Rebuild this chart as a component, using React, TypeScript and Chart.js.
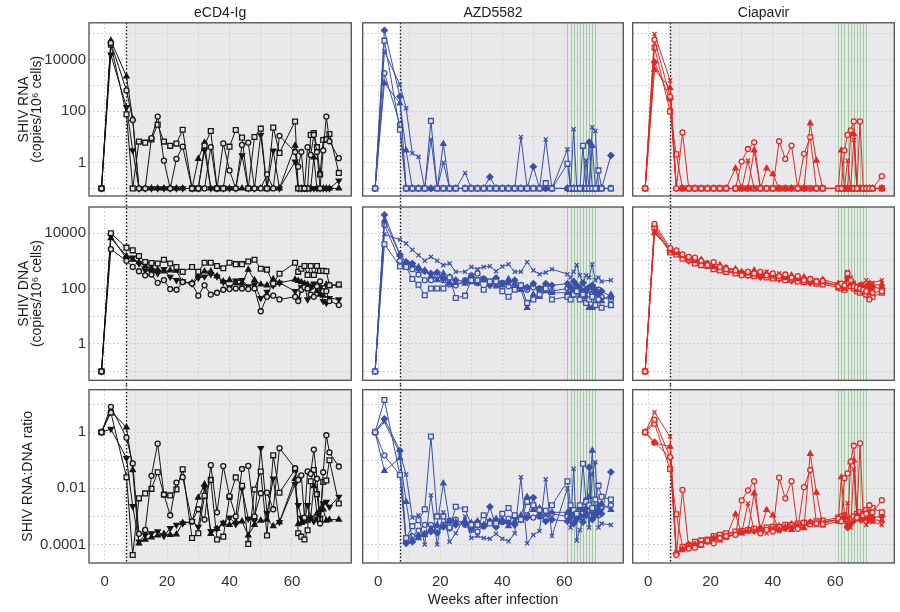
import React, { useEffect, useRef } from "react";
import { Chart, registerables } from "chart.js";

Chart.register(...registerables);

const FONT_FAMILY = "'Liberation Sans', Arial, Helvetica, sans-serif";

// ---------------- data ----------------
const WEEKS = [
  -1, 2, 7, 9, 11, 13, 15, 17, 19, 21,
  23, 25, 28, 30, 32, 34, 36, 38, 40, 42,
  44, 46, 48, 50, 52, 54, 56, 61, 62, 63,
  64, 65, 66, 67, 68, 69, 70, 71, 72, 75,
];

const GROUP_NAMES = ["eCD4-Ig", "AZD5582", "Ciapavir"];
const GROUP_COLORS = ["#141414", "#3b50a6", "#de2a26"];
const TREATMENT_START_WEEK = 7;
const INFUSION_WEEKS = [61, 62, 63, 64, 65, 66, 67, 68, 69, 70];
const X_GRID_WEEKS = [0, 10, 20, 30, 40, 50, 60, 70];
const X_LABEL_WEEKS = [0, 20, 40, 60];
const RNA_DECADES = [0.1, 1, 10, 100, 1000, 10000, 100000];
const DNA_DECADES = [0.1, 1, 10, 100, 1000, 10000];
const COPY_LABELS = [1, 100, 10000];
const RATIO_DECADES = [0.0001, 0.001, 0.01, 0.1, 1, 10];
const RATIO_LABELS = [0.0001, 0.01, 1];

// eCD4-Ig
const ECD4_RNA_CIRCLE = [0.1, 45000, 640, 46, 0.1, 0.1, 9, 62, 1.2, 0.1,
  1.4, 4.2, 0.1, 0.1, 0.1, 4, 0.1, 5.6, 0.5, 0.1,
  4.9, 6, 0.1, 0.1, 0.35, 0.1, 11, 2.6, 0.7, 2.6,
  0.1, 4, 2, 12, 2.6, 0.1, 3, 62, 6.8, 1.5];
const ECD4_RNA_SQUARE = [0.1, 38000, 76, 0.1, 6.6, 6, 8, 30, 6.6, 4.5,
  5.5, 19, 0.1, 0.1, 4.6, 17, 0.1, 0.1, 4.2, 18.6,
  9.4, 0.1, 10, 21, 0.1, 23, 2.4, 40, 0.1, 0.1,
  0.1, 0.1, 12, 14, 4, 0.35, 7.6, 8, 13, 0.4];
const ECD4_RNA_TRIUP = [0.1, 56000, 2240, 50, 0.1, 0.1, 0.1, 0.1, 0.1, 0.1,
  0.1, 0.1, 0.1, 1.4, 6, 0.1, 0.1, 0.1, 0.1, 0.1,
  0.1, 0.1, 0.1, 0.1, 0.1, 0.1, 0.1, 4.6, 0.1, 0.1,
  0.1, 0.1, 0.1, 1.6, 0.1, 0.1, 0.1, 0.1, 0.1, 0.1];
const ECD4_RNA_TRIDOWN = [0.1, 15600, 144, 3, 0.1, 0.1, 0.1, 0.1, 0.1, 0.1,
  0.1, 0.1, 0.1, 0.1, 3, 0.1, 0.1, 0.1, 0.1, 0.1,
  1.9, 0.1, 0.1, 12, 0.1, 2.9, 0.1, 1.1, 0.1, 0.1,
  0.1, 0.1, 0.1, 0.1, 0.1, 0.1, 0.1, 0.1, 0.1, 0.2];

const ECD4_DNA_CIRCLE = [0.1, 2650, 1000, 600, 420, 300, 320, 160, 200, 95,
  90, 170, 150, 55, 130, 60, 70, 90, 95, 100,
  100, 95, 100, 15, 50, 55, 40, 50, 35, 90,
  110, 100, 60, 50, 120, 180, 80, 80, 35, 25];
const ECD4_DNA_SQUARE = [0.1, 10000, 3000, 2400, 1500, 910, 830, 800, 1100, 800,
  600, 400, 600, 400, 850, 850, 650, 540, 850, 760,
  760, 950, 1100, 520, 480, 150, 340, 850, 400, 520,
  650, 310, 650, 310, 650, 430, 440, 420, 130, 140];
const ECD4_DNA_TRIUP = [0.1, 6600, 1500, 1100, 900, 650, 550, 480, 420, 450,
  440, 170, 160, 300, 420, 420, 280, 180, 200, 160,
  150, 480, 200, 140, 130, 220, 160, 210, 190, 170,
  150, 140, 110, 130, 80, 60, 55, 140, 130, 130];
const ECD4_DNA_TRIDOWN = [0.1, 8000, 1200, 1300, 800, 450, 400, 350, 500, 260,
  200, 180, 150, 240, 270, 330, 270, 170, 110, 190,
  200, 120, 140, 45, 75, 130, 160, 80, 40, 110,
  140, 40, 110, 150, 120, 110, 35, 30, 45, 40];

const ECD4_RATIO_CIRCLE = [1, 8, 0.64, 0.077, 0.00024, 0.00033, 0.028, 0.39, 0.006, 0.0011,
  0.016, 0.025, 0.00067, 0.0018, 0.00077, 0.067, 0.0014, 0.062, 0.0053, 0.001,
  0.049, 0.063, 0.001, 0.0067, 0.007, 0.0018, 0.27, 0.052, 0.02, 0.029,
  0.0009, 0.04, 0.033, 0.24, 0.022, 0.00056, 0.0375, 0.78, 0.19, 0.06];
const ECD4_RATIO_SQUARE = [1, 5, 0.025, 0.000042, 0.0044, 0.0066, 0.0096, 0.0375, 0.006, 0.0056,
  0.0092, 0.0475, 0.00017, 0.00025, 0.0054, 0.02, 0.00015, 0.00019, 0.0049, 0.0245,
  0.0124, 0.000105, 0.0091, 0.04, 0.00021, 0.15, 0.007, 0.047, 0.00025, 0.00019,
  0.00015, 0.00032, 0.018, 0.045, 0.0062, 0.0008, 0.017, 0.019, 0.1, 0.0029];
const ECD4_RATIO_TRIUP = [1, 5.6, 1.5, 0.045, 0.00011, 0.00015, 0.00018, 0.00021, 0.00024, 0.00022,
  0.00023, 0.00059, 0.00063, 0.0047, 0.014, 0.00024, 0.00036, 0.00056, 0.0005, 0.00063,
  0.00067, 0.00021, 0.0005, 0.00071, 0.00077, 0.00045, 0.00063, 0.022, 0.00053, 0.00059,
  0.00067, 0.00071, 0.00091, 0.012, 0.00125, 0.0017, 0.0018, 0.00071, 0.00077, 0.00077];
const ECD4_RATIO_TRIDOWN = [1, 1.3, 0.12, 0.0023, 0.000125, 0.00022, 0.00025, 0.00029, 0.0002, 0.00038,
  0.0005, 0.00056, 0.00067, 0.00042, 0.011, 0.0003, 0.00037, 0.00059, 0.00091, 0.00053,
  0.0095, 0.00083, 0.00071, 0.27, 0.0013, 0.022, 0.00063, 0.014, 0.0025, 0.00091,
  0.00071, 0.0025, 0.00091, 0.00067, 0.00083, 0.00091, 0.0029, 0.0033, 0.0022, 0.005];

// AZD5582
const AZD_RNA_SQUARE = [0.1, 55000, 19, 0.1, 0.1, 0.1, 0.1, 42, 0.1, 0.1,
  0.1, 0.1, 0.1, 0.1, 0.1, 0.1, 0.1, 0.1, 0.1, 0.1,
  0.1, 0.1, 0.1, 0.1, 0.1, 0.16, 0.1, 0.9, 0.1, 0.1,
  0.1, 0.1, 4.5, 0.1, 0.1, 0.1, 0.1, 0.5, 0.1, 0.1];
const AZD_RNA_DIAMOND = [0.1, 138000, 370, 0.1, 0.1, 0.1, 0.1, 0.1, 0.1, 0.1,
  0.1, 0.1, 0.1, 0.1, 0.1, 0.1, 0.28, 0.1, 0.1, 0.1,
  0.1, 0.1, 0.1, 0.7, 0.1, 0.1, 0.1, 0.1, 0.1, 0.1,
  0.1, 0.1, 0.1, 0.1, 6.3, 0.1, 0.1, 0.1, 0.1, 1.9];
const AZD_RNA_CROSS = [0.1, 21000, 1070, 130, 2.3, 1.7, 0.1, 8, 0.1, 1,
  0.1, 0.1, 0.4, 0.1, 0.1, 0.1, 0.1, 0.1, 0.1, 0.1,
  0.1, 10, 0.1, 0.1, 0.1, 8, 0.1, 3.3, 0.1, 20,
  0.1, 0.1, 0.1, 1.2, 0.1, 24, 17, 0.1, 0.1, 0.1];
const AZD_RNA_TRIUP = [0.1, 1230, 200, 3, 0.1, 0.1, 0.1, 0.1, 0.1, 5.4,
  0.1, 0.1, 0.1, 0.1, 0.1, 0.1, 0.1, 0.1, 0.1, 0.1,
  0.1, 0.1, 0.1, 0.1, 0.1, 0.1, 0.1, 0.1, 0.1, 0.1,
  0.1, 0.1, 0.1, 0.1, 0.1, 4.5, 0.1, 0.1, 0.1, 0.1];
const AZD_RNA_CIRCLE = [0.1, 3000, 30, 0.1, 0.1, 0.1, 0.1, 0.1, 0.1, 0.1,
  0.1, 0.1, 0.1, 0.1, 0.1, 0.1, 0.1, 0.1, 0.1, 0.1,
  0.1, 0.1, 0.1, 0.1, 0.1, 0.1, 0.1, 0.1, 0.1, 0.1,
  0.1, 0.1, 0.1, 0.1, 0.1, 0.1, 0.1, 0.1, 0.1, 0.1];

const AZD_DNA_SQUARE = [0.1, 4000, 630, 600, 220, 137, 57, 100, 100, 100,
  250, 45, 55, 200, 200, 90, 180, 180, 80, 50,
  90, 130, 30, 40, 60, 100, 40, 50, 40, 60,
  80, 40, 60, 30, 40, 50, 25, 40, 20, 25];
const AZD_DNA_DIAMOND = [0.1, 46000, 1660, 900, 800, 500, 420, 350, 380, 230,
  260, 200, 180, 260, 160, 220, 130, 240, 150, 170,
  200, 130, 110, 150, 90, 150, 130, 150, 110, 180,
  130, 100, 160, 90, 110, 130, 90, 60, 80, 50];
const AZD_DNA_CROSS = [0.1, 9200, 5800, 4200, 2500, 1600, 1000, 1400, 1000, 700,
  800, 400, 400, 600, 500, 600, 640, 420, 620, 750,
  400, 400, 900, 450, 330, 380, 500, 330, 250, 400,
  700, 300, 150, 300, 250, 750, 200, 250, 180, 200];
const AZD_DNA_TRIUP = [0.1, 29000, 1660, 900, 700, 600, 450, 280, 200, 350,
  150, 160, 150, 170, 150, 200, 150, 120, 130, 220,
  150, 90, 20, 60, 50, 80, 70, 70, 60, 80,
  110, 50, 60, 50, 20, 20, 70, 40, 35, 60];
const AZD_DNA_CIRCLE = [0.1, 20000, 1000, 850, 500, 320, 200, 200, 300, 200,
  140, 130, 200, 300, 350, 220, 150, 180, 160, 120,
  100, 110, 90, 110, 100, 120, 80, 100, 90, 70,
  80, 90, 70, 80, 90, 60, 70, 90, 50, 40];

const AZD_RATIO_SQUARE = [1, 14, 0.03, 0.00017, 0.00045, 0.00073, 0.0018, 0.7, 0.001, 0.001,
  0.0004, 0.0022, 0.0018, 0.0005, 0.0005, 0.0011, 0.00056, 0.00056, 0.00125, 0.002,
  0.0011, 0.00077, 0.0033, 0.0025, 0.0017, 0.0016, 0.0025, 0.018, 0.0025, 0.0017,
  0.00125, 0.0025, 0.075, 0.0033, 0.0025, 0.002, 0.004, 0.0125, 0.005, 0.004];
const AZD_RATIO_DIAMOND = [1, 3, 0.22, 0.00011, 0.000125, 0.0002, 0.00024, 0.00029, 0.00026, 0.00043,
  0.00038, 0.0005, 0.00056, 0.00038, 0.00063, 0.00045, 0.0022, 0.00042, 0.00067, 0.00059,
  0.0005, 0.00077, 0.00091, 0.0047, 0.0011, 0.00067, 0.00077, 0.00067, 0.00091, 0.00056,
  0.00077, 0.001, 0.00063, 0.0011, 0.057, 0.00077, 0.0011, 0.0017, 0.00125, 0.038];
const AZD_RATIO_CROSS = [1, 2.3, 0.18, 0.031, 0.00092, 0.0011, 0.0001, 0.0057, 0.0001, 0.0014,
  0.000125, 0.00025, 0.001, 0.00017, 0.0002, 0.00017, 0.00016, 0.00024, 0.00016, 0.00013,
  0.00025, 0.025, 0.00011, 0.00022, 0.0003, 0.021, 0.0002, 0.01, 0.0004, 0.05,
  0.00014, 0.00033, 0.00067, 0.004, 0.0004, 0.032, 0.085, 0.0004, 0.00056, 0.0005];
const AZD_RATIO_TRIUP = [1, 0.042, 0.12, 0.0033, 0.00014, 0.00017, 0.00022, 0.00036, 0.0005, 0.015,
  0.00067, 0.00063, 0.00067, 0.00059, 0.00067, 0.0005, 0.00067, 0.00083, 0.00077, 0.00045,
  0.00067, 0.0011, 0.005, 0.0017, 0.002, 0.00125, 0.0014, 0.0014, 0.0017, 0.00125,
  0.00091, 0.002, 0.0017, 0.002, 0.005, 0.22, 0.0014, 0.0025, 0.0029, 0.0017];
const AZD_RATIO_CIRCLE = [1, 0.15, 0.03, 0.00012, 0.0002, 0.00031, 0.0005, 0.0005, 0.00033, 0.0005,
  0.00071, 0.00077, 0.0005, 0.00033, 0.00029, 0.00045, 0.00067, 0.00056, 0.00063, 0.00083,
  0.001, 0.00091, 0.0011, 0.00091, 0.001, 0.00083, 0.00125, 0.001, 0.0011, 0.0014,
  0.00125, 0.0011, 0.0014, 0.00125, 0.0011, 0.0017, 0.0014, 0.0011, 0.002, 0.0025];

// Ciapavir
const CIA_RNA_CIRCLE = [0.1, 60000, 370, 0.1, 15, 0.1, 0.1, 0.1, 0.1, 0.1,
  0.1, 0.1, 0.1, 1.1, 3.4, 6.2, 0.1, 0.1, 0.1, 6.8,
  1.4, 4.6, 0.1, 2.2, 9.8, 0.1, 0.1, 0.1, 0.1, 3,
  12, 18, 40, 0.1, 40, 0.1, 0.1, 0.1, 0.1, 0.3];
const CIA_RNA_CROSS = [0.1, 100000, 1550, 0.1, 0.1, 0.1, 0.1, 0.1, 0.1, 0.1,
  0.1, 0.1, 0.1, 0.1, 1.2, 0.1, 0.1, 0.1, 0.1, 0.1,
  0.1, 0.1, 0.1, 0.1, 0.1, 0.1, 0.1, 0.1, 0.1, 0.1,
  1.2, 0.1, 7.6, 0.1, 0.1, 0.1, 0.1, 0.1, 0.1, 0.1];
const CIA_RNA_TRIUP = [0.1, 4100, 800, 0.1, 0.1, 0.1, 0.1, 0.1, 0.1, 0.1,
  0.1, 0.1, 0.6, 0.1, 0.1, 3, 0.1, 0.6, 0.36, 0.1,
  0.1, 0.1, 0.1, 0.1, 34, 1.2, 0.1, 0.1, 3, 0.1,
  0.1, 13, 13, 0.1, 0.1, 0.1, 0.1, 0.1, 0.1, 0.1];
const CIA_RNA_SQUARE = [0.1, 30000, 98, 2.1, 0.1, 0.1, 0.1, 0.1, 0.1, 0.1,
  0.1, 0.1, 0.1, 0.1, 0.1, 0.1, 0.1, 0.1, 0.1, 0.1,
  0.1, 0.1, 0.1, 0.1, 0.1, 0.1, 0.1, 0.1, 0.1, 0.1,
  0.1, 0.1, 0.1, 0.1, 0.1, 0.1, 0.1, 0.1, 0.1, 0.1];
const CIA_RNA_DIAMOND = [0.1, 8000, 300, 0.1, 0.1, 0.1, 0.1, 0.1, 0.1, 0.1,
  0.1, 0.1, 0.1, 0.1, 0.1, 0.1, 0.1, 0.1, 0.1, 0.1,
  0.1, 0.1, 0.1, 0.1, 0.1, 0.1, 0.1, 0.1, 0.1, 0.1,
  0.1, 0.1, 0.1, 0.1, 0.1, 0.1, 0.1, 0.1, 0.1, 0.1];

const CIA_DNA_CIRCLE = [0.1, 21700, 2900, 2400, 1700, 1400, 1300, 1000, 700, 900,
  600, 500, 450, 300, 400, 350, 400, 300, 350, 280,
  320, 250, 280, 200, 220, 180, 190, 120, 150, 130,
  350, 200, 120, 110, 100, 90, 80, 40, 70, 80];
const CIA_DNA_CROSS = [0.1, 12000, 2200, 1900, 1600, 1300, 1100, 900, 850, 650,
  550, 600, 420, 380, 420, 320, 280, 400, 260, 350,
  280, 220, 250, 230, 170, 200, 160, 130, 110, 140,
  400, 250, 160, 120, 90, 150, 200, 120, 160, 200];
const CIA_DNA_TRIUP = [0.1, 10000, 2600, 2000, 1500, 1200, 1000, 1100, 800, 600,
  700, 550, 500, 400, 350, 450, 300, 350, 320, 300,
  240, 300, 220, 260, 200, 170, 210, 150, 120, 100,
  200, 150, 130, 90, 110, 100, 120, 150, 130, 140];
const CIA_DNA_SQUARE = [0.1, 15000, 2000, 1700, 1200, 1100, 800, 700, 650, 500,
  450, 400, 350, 330, 300, 280, 330, 250, 230, 240,
  200, 210, 180, 170, 190, 150, 140, 110, 100, 90,
  150, 120, 100, 80, 70, 80, 60, 50, 50, 70];
const CIA_DNA_DIAMOND = [0.1, 18000, 2400, 2100, 1400, 1000, 900, 800, 750, 550,
  500, 450, 380, 350, 300, 330, 260, 280, 300, 220,
  260, 190, 200, 180, 160, 170, 150, 140, 130, 120,
  250, 180, 140, 100, 130, 110, 100, 90, 110, 100];

const CIA_RATIO_CIRCLE = [1, 2.8, 0.13, 0.000042, 0.0088, 0.000071, 0.000077, 0.0001, 0.00014, 0.00011,
  0.00017, 0.0002, 0.00022, 0.0037, 0.0085, 0.018, 0.00025, 0.00033, 0.00029, 0.024,
  0.0044, 0.018, 0.00036, 0.011, 0.045, 0.00056, 0.00053, 0.00083, 0.00067, 0.023,
  0.034, 0.09, 0.33, 0.0009, 0.4, 0.0011, 0.00125, 0.0025, 0.0014, 0.0038];
const CIA_RATIO_CROSS = [1, 5.1, 0.7, 0.000053, 0.000063, 0.000077, 0.000091, 0.00011, 0.00012, 0.00015,
  0.00018, 0.00017, 0.00024, 0.00026, 0.0029, 0.00031, 0.00036, 0.00025, 0.00038, 0.00029,
  0.00036, 0.00045, 0.0004, 0.00043, 0.00059, 0.0005, 0.00063, 0.00077, 0.00091, 0.00071,
  0.003, 0.0004, 0.0475, 0.00083, 0.0011, 0.00067, 0.0005, 0.00083, 0.00063, 0.0005];
const CIA_RATIO_TRIUP = [1, 0.41, 0.31, 0.00005, 0.000067, 0.000083, 0.0001, 0.000091, 0.000125, 0.00017,
  0.00014, 0.00018, 0.0012, 0.00025, 0.00029, 0.0067, 0.00033, 0.0017, 0.0011, 0.00033,
  0.00042, 0.00033, 0.00045, 0.00038, 0.17, 0.0071, 0.00048, 0.00067, 0.025, 0.001,
  0.0005, 0.087, 0.1, 0.0011, 0.00091, 0.001, 0.00083, 0.00067, 0.00077, 0.00071];
const CIA_RATIO_SQUARE = [1, 2, 0.049, 0.0012, 0.000083, 0.000091, 0.000125, 0.00014, 0.00015, 0.0002,
  0.00022, 0.00025, 0.00029, 0.0003, 0.00033, 0.00036, 0.0003, 0.0004, 0.00043, 0.00042,
  0.0005, 0.00048, 0.00056, 0.00059, 0.00053, 0.00067, 0.00071, 0.00091, 0.001, 0.0011,
  0.00067, 0.00083, 0.001, 0.00125, 0.0014, 0.00125, 0.0017, 0.002, 0.002, 0.0014];
const CIA_RATIO_DIAMOND = [1, 0.44, 0.125, 0.000048, 0.000071, 0.0001, 0.00011, 0.000125, 0.00013, 0.00018,
  0.0002, 0.00022, 0.00026, 0.00029, 0.00033, 0.0003, 0.00038, 0.00036, 0.00033, 0.00045,
  0.00038, 0.00053, 0.0005, 0.00056, 0.00063, 0.00059, 0.00067, 0.00071, 0.00077, 0.00083,
  0.0004, 0.00056, 0.00071, 0.001, 0.00077, 0.00091, 0.001, 0.0011, 0.00091, 0.001];

// ---------------- series tables ----------------
const GROUP_SERIES = [
  [
    { marker: "circle", values: [ECD4_RNA_CIRCLE, ECD4_DNA_CIRCLE, ECD4_RATIO_CIRCLE] },
    { marker: "square", values: [ECD4_RNA_SQUARE, ECD4_DNA_SQUARE, ECD4_RATIO_SQUARE] },
    { marker: "triUp", values: [ECD4_RNA_TRIUP, ECD4_DNA_TRIUP, ECD4_RATIO_TRIUP] },
    { marker: "triDown", values: [ECD4_RNA_TRIDOWN, ECD4_DNA_TRIDOWN, ECD4_RATIO_TRIDOWN] },
  ],
  [
    { marker: "square", values: [AZD_RNA_SQUARE, AZD_DNA_SQUARE, AZD_RATIO_SQUARE] },
    { marker: "diamond", values: [AZD_RNA_DIAMOND, AZD_DNA_DIAMOND, AZD_RATIO_DIAMOND] },
    { marker: "cross", values: [AZD_RNA_CROSS, AZD_DNA_CROSS, AZD_RATIO_CROSS] },
    { marker: "triUp", values: [AZD_RNA_TRIUP, AZD_DNA_TRIUP, AZD_RATIO_TRIUP] },
    { marker: "circle", values: [AZD_RNA_CIRCLE, AZD_DNA_CIRCLE, AZD_RATIO_CIRCLE] },
  ],
  [
    { marker: "circle", values: [CIA_RNA_CIRCLE, CIA_DNA_CIRCLE, CIA_RATIO_CIRCLE] },
    { marker: "cross", values: [CIA_RNA_CROSS, CIA_DNA_CROSS, CIA_RATIO_CROSS] },
    { marker: "triUp", values: [CIA_RNA_TRIUP, CIA_DNA_TRIUP, CIA_RATIO_TRIUP] },
    { marker: "square", values: [CIA_RNA_SQUARE, CIA_DNA_SQUARE, CIA_RATIO_SQUARE] },
    { marker: "diamond", values: [CIA_RNA_DIAMOND, CIA_DNA_DIAMOND, CIA_RATIO_DIAMOND] },
  ],
];

// ---------------- styles / layout ----------------
const MARKERS: any = {
  circle: { style: "circle", filled: false, rotation: 0, radius: 2.5 },
  square: { style: "rect", filled: false, rotation: 0, radius: 3.4 },
  triUp: { style: "triangle", filled: true, rotation: 0, radius: 3.0 },
  triDown: { style: "triangle", filled: true, rotation: 180, radius: 3.0 },
  cross: { style: "crossRot", filled: false, rotation: 0, radius: 2.9 },
  diamond: { style: "rectRot", filled: true, rotation: 0, radius: 3.0 },
};
const OPEN_FILL = "rgba(235,235,235,0.9)";
const GRID_COLOR = "#d2d2d2";
const SHADE_COLOR = "#e9e9eb";
const GREEN_LINE = "#9fcc9f";
const TICK_COLOR = "#333333";
const TEXT_COLOR = "#1a1a1a";

const ROWS = [
  {
    top: 0, height: 201, padTop: 0, padBottom: 5, xAxisHeight: 0,
    min: 0.0507, max: 272000, decades: RNA_DECADES, labels: COPY_LABELS,
    title: ["SHIV RNA", "(copies/10\u2076 cells)"], titlePad: 17,
  },
  {
    top: 201, height: 184, padTop: 6, padBottom: 4, xAxisHeight: 0,
    min: 0.0476, max: 88700, decades: DNA_DECADES, labels: COPY_LABELS,
    title: ["SHIV DNA", "(copies/10\u2076 cells)"], titlePad: 17,
  },
  {
    top: 385, height: 227, padTop: 4, padBottom: 0, xAxisHeight: 49,
    min: 0.0000219, max: 32.7, decades: RATIO_DECADES, labels: RATIO_LABELS,
    title: "SHIV RNA:DNA ratio", titlePad: 21,
  },
];

const COLS = [
  { left: 0, width: 356, padLeft: 0, padRight: 4, yAxisWidth: 89 },
  { left: 358, width: 270, padLeft: 4, padRight: 3, yAxisWidth: 0 },
  { left: 628, width: 271, padLeft: 4, padRight: 4, yAxisWidth: 0 },
];

const X_MIN = -5;
const X_MAX = 79;

const panelDecor = {
  id: "panelDecor",
  beforeDraw(chart: any, _args: any, opts: any) {
    const { ctx, chartArea: a, scales } = chart;
    const xs = scales.x.getPixelForValue(opts.shadeFrom);
    ctx.save();
    ctx.fillStyle = "#ffffff";
    ctx.fillRect(a.left, a.top, a.right - a.left, a.bottom - a.top);
    ctx.fillStyle = SHADE_COLOR;
    ctx.fillRect(xs, a.top, a.right - xs, a.bottom - a.top);
    ctx.restore();
  },
  beforeDatasetsDraw(chart: any, _args: any, opts: any) {
    const { ctx, chartArea: a, scales } = chart;
    ctx.save();
    ctx.strokeStyle = GREEN_LINE;
    ctx.lineWidth = 1;
    for (const w of opts.infusions) {
      const px = Math.round(scales.x.getPixelForValue(w)) + 0.5;
      ctx.beginPath();
      ctx.moveTo(px, a.top);
      ctx.lineTo(px, a.bottom);
      ctx.stroke();
    }
    const dx = Math.round(scales.x.getPixelForValue(opts.shadeFrom)) + 0.5;
    ctx.strokeStyle = "#111111";
    ctx.lineWidth = 1.4;
    ctx.setLineDash([1.5, 2]);
    ctx.beginPath();
    ctx.moveTo(dx, opts.extendTop ? 0 : a.top);
    ctx.lineTo(dx, opts.extendBottom ? chart.height : a.bottom);
    ctx.stroke();
    ctx.restore();
  },
  afterDraw(chart: any) {
    const { ctx, chartArea: a } = chart;
    ctx.save();
    ctx.strokeStyle = "#4f4f4f";
    ctx.lineWidth = 1.3;
    ctx.strokeRect(a.left, a.top, a.right - a.left, a.bottom - a.top);
    ctx.restore();
  },
};

function buildConfig(row: number, col: number) {
  const r = ROWS[row];
  const c = COLS[col];
  const color = GROUP_COLORS[col];
  const datasets = GROUP_SERIES[col].map((s) => {
    const m = MARKERS[s.marker];
    const vals = s.values[row];
    return {
      data: WEEKS.map((w, i) => ({ x: w, y: vals[i] })),
      borderColor: color,
      borderWidth: 1,
      pointStyle: m.style,
      pointRadius: m.radius,
      pointHoverRadius: m.radius,
      pointRotation: m.rotation,
      pointBorderColor: color,
      pointBorderWidth: 1.3,
      pointBackgroundColor: m.filled ? color : OPEN_FILL,
      tension: 0,
      fill: false,
      clip: 6,
    };
  });

  const resetPadding = (s: any) => {
    s.paddingLeft = 0;
    s.paddingRight = 0;
    s.paddingTop = 0;
    s.paddingBottom = 0;
  };

  return {
    type: "line",
    data: { datasets },
    plugins: [panelDecor],
    options: {
      responsive: false,
      animation: false,
      devicePixelRatio: 1,
      events: [],
      layout: { padding: { left: c.padLeft, right: c.padRight, top: r.padTop, bottom: r.padBottom } },
      plugins: {
        legend: { display: false },
        tooltip: { enabled: false },
        title: {
          display: row === 0,
          text: GROUP_NAMES[col],
          color: TEXT_COLOR,
          font: { family: FONT_FAMILY, size: 14, weight: "normal", lineHeight: 1.2 },
          padding: { top: 5, bottom: 1 },
          fullSize: false,
        },
        panelDecor: {
          shadeFrom: TREATMENT_START_WEEK,
          infusions: col > 0 ? INFUSION_WEEKS : [],
          extendTop: row > 0,
          extendBottom: row < 2,
        },
      },
      scales: {
        x: {
          type: "linear",
          min: X_MIN,
          max: X_MAX,
          afterBuildTicks: (s: any) => {
            s.ticks = X_GRID_WEEKS.map((v) => ({ value: v }));
          },
          afterFit: (s: any) => {
            s.height = r.xAxisHeight;
            resetPadding(s);
          },
          grid: { color: GRID_COLOR, lineWidth: 1, drawTicks: false },
          border: { display: false, dash: [2, 2] },
          ticks: {
            display: row === 2,
            autoSkip: false,
            maxRotation: 0,
            minRotation: 0,
            padding: 10,
            color: TICK_COLOR,
            font: { family: FONT_FAMILY, size: 15 },
            callback: (v: any) => (X_LABEL_WEEKS.includes(v) ? String(v) : ""),
          },
          title: {
            display: row === 2 && col === 1,
            text: "Weeks after infection",
            color: TEXT_COLOR,
            font: { family: FONT_FAMILY, size: 14 },
            padding: { top: 0, bottom: 3 },
          },
        },
        y: {
          type: "logarithmic",
          min: r.min,
          max: r.max,
          afterBuildTicks: (s: any) => {
            s.ticks = r.decades.map((v) => ({ value: v }));
          },
          afterFit: (s: any) => {
            s.width = c.yAxisWidth;
            resetPadding(s);
          },
          grid: { color: GRID_COLOR, lineWidth: 1, drawTicks: false },
          border: { display: false, dash: [2, 2] },
          ticks: {
            display: col === 0,
            autoSkip: false,
            padding: 3,
            color: TICK_COLOR,
            font: { family: FONT_FAMILY, size: 15 },
            callback: (v: any) => (r.labels.includes(v) ? String(v) : ""),
          },
          title: {
            display: col === 0,
            text: r.title,
            color: TEXT_COLOR,
            font: { family: FONT_FAMILY, size: 14, lineHeight: 0.98 },
            padding: { top: r.titlePad, bottom: 0 },
          },
        },
      },
    },
  };
}

function Panel({ row, col }: { row: number; col: number }) {
  const ref = useRef<HTMLCanvasElement>(null);
  const r = ROWS[row];
  const c = COLS[col];
  useEffect(() => {
    const chart = new Chart(ref.current as HTMLCanvasElement, buildConfig(row, col) as any);
    return () => chart.destroy();
  }, [row, col]);
  return (
    <canvas
      ref={ref}
      width={c.width}
      height={r.height}
      style={{ position: "absolute", left: c.left, top: r.top, width: c.width, height: r.height }}
    />
  );
}

export default function App() {
  const cells: any[] = [];
  for (let row = 0; row < 3; row++) {
    for (let col = 0; col < 3; col++) {
      cells.push(<Panel key={`${row}-${col}`} row={row} col={col} />);
    }
  }
  return (
    <div style={{ position: "absolute", left: 0, top: 0, width: 900, height: 612, background: "#ffffff", overflow: "hidden" }}>
      {cells}
    </div>
  );
}
